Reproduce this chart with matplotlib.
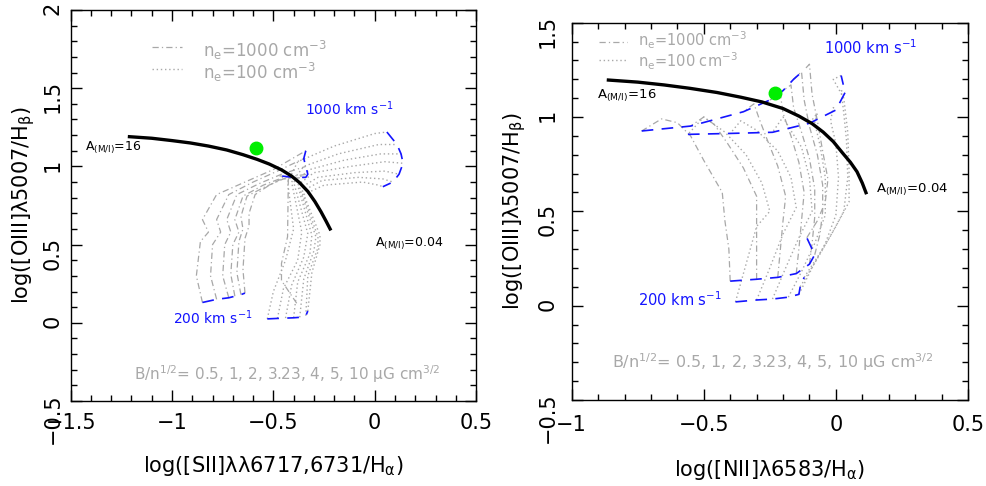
import matplotlib.pyplot as plt
from matplotlib.ticker import MultipleLocator, FuncFormatter

plt.rcParams['font.family'] = 'DejaVu Sans'
plt.rcParams['mathtext.default'] = 'regular'

GRAY = '#a8a8a8'
BLUE = '#1414ff'

# ---------------- left panel: [SII]/Ha vs [OIII]/Hb ----------------
# shock tracks 200 -> 1000 km/s, one per B/n^1/2, n_e = 1000 cm^-3 (dash-dot)
sii_n1000_x = [
    [-0.85, -0.88, -0.86, -0.82, -0.85, -0.78, -0.64, -0.50, -0.34],
    [-0.78, -0.81, -0.80, -0.76, -0.78, -0.72, -0.60, -0.48, -0.35],
    [-0.72, -0.75, -0.74, -0.71, -0.73, -0.68, -0.57, -0.46, -0.34],
    [-0.69, -0.71, -0.70, -0.67, -0.69, -0.65, -0.55, -0.45, -0.33],
    [-0.66, -0.68, -0.67, -0.65, -0.66, -0.63, -0.54, -0.45, -0.34],
    [-0.64, -0.65, -0.64, -0.62, -0.62, -0.59, -0.52, -0.46, -0.40],
    [-0.385, -0.46, -0.46, -0.43, -0.426, -0.47],
]
sii_n1000_y = [
    [0.13, 0.30, 0.52, 0.58, 0.66, 0.82, 0.90, 0.98, 1.10],
    [0.15, 0.30, 0.50, 0.58, 0.66, 0.82, 0.90, 0.97, 1.05],
    [0.16, 0.30, 0.50, 0.58, 0.66, 0.82, 0.89, 0.95, 1.00],
    [0.17, 0.31, 0.50, 0.58, 0.66, 0.81, 0.88, 0.93, 0.95],
    [0.18, 0.32, 0.52, 0.60, 0.68, 0.81, 0.87, 0.92, 0.93],
    [0.19, 0.34, 0.54, 0.62, 0.70, 0.82, 0.88, 0.92, 0.93],
    [0.125, 0.27, 0.38, 0.55, 0.93, 0.94],
]
# n_e = 100 cm^-3 (dotted)
sii_n100_x = [
    [-0.53, -0.50, -0.44, -0.40, -0.43, -0.38, -0.20, 0.00, 0.06],
    [-0.48, -0.45, -0.38, -0.36, -0.41, -0.35, -0.18, 0.02, 0.11],
    [-0.44, -0.41, -0.35, -0.33, -0.40, -0.32, -0.15, 0.03, 0.13],
    [-0.40, -0.38, -0.32, -0.31, -0.38, -0.30, -0.12, 0.05, 0.14],
    [-0.37, -0.35, -0.30, -0.29, -0.37, -0.28, -0.10, 0.05, 0.12],
    [-0.34, -0.33, -0.28, -0.28, -0.36, -0.26, -0.08, 0.04, 0.09],
    [-0.33, -0.31, -0.27, -0.27, -0.35, -0.25, -0.06, 0.02, 0.04],
]
sii_n100_y = [
    [0.025, 0.20, 0.40, 0.60, 0.90, 1.03, 1.13, 1.21, 1.22],
    [0.028, 0.22, 0.40, 0.58, 0.90, 1.00, 1.08, 1.14, 1.14],
    [0.030, 0.24, 0.42, 0.57, 0.90, 0.98, 1.04, 1.08, 1.08],
    [0.032, 0.26, 0.44, 0.56, 0.88, 0.96, 1.00, 1.03, 1.02],
    [0.035, 0.28, 0.46, 0.55, 0.86, 0.93, 0.96, 0.97, 0.95],
    [0.045, 0.30, 0.48, 0.55, 0.84, 0.91, 0.93, 0.92, 0.90],
    [0.075, 0.32, 0.50, 0.56, 0.82, 0.88, 0.90, 0.88, 0.87],
]
# mixing curve A(M/I) = 16 -> 0.04
sii_mix_x = [-1.21, -1.10, -1.00, -0.91, -0.82, -0.73, -0.65, -0.58, -0.52,
             -0.46, -0.41, -0.37, -0.33, -0.295, -0.265, -0.24, -0.22]
sii_mix_y = [1.19, 1.18, 1.165, 1.15, 1.13, 1.105, 1.075, 1.045, 1.015,
             0.978, 0.938, 0.895, 0.84, 0.775, 0.71, 0.65, 0.60]
sii_obs = (-0.586, 1.12)

# ---------------- right panel: [NII]/Ha vs [OIII]/Hb ----------------
nii_n1000_x = [
    [-0.40, -0.405, -0.42, -0.43, -0.50, -0.55, -0.60, -0.66, -0.735],
    [-0.30, -0.30, -0.30, -0.30, -0.35, -0.41, -0.46, -0.50, -0.55],
    [-0.22, -0.21, -0.20, -0.19, -0.22, -0.26, -0.29, -0.31, -0.35],
    [-0.15, -0.14, -0.13, -0.12, -0.14, -0.17, -0.20, -0.21, -0.25],
    [-0.10, -0.09, -0.08, -0.08, -0.10, -0.13, -0.16, -0.17, -0.20],
    [-0.08, -0.06, -0.05, -0.05, -0.07, -0.10, -0.12, -0.13, -0.16],
    [-0.11, -0.07, -0.04, -0.03, -0.05, -0.07, -0.09, -0.10, -0.12],
]
nii_n1000_y = [
    [0.13, 0.30, 0.45, 0.60, 0.77, 0.90, 0.97, 0.99, 0.926],
    [0.14, 0.30, 0.45, 0.58, 0.73, 0.86, 0.96, 1.00, 0.952],
    [0.15, 0.30, 0.45, 0.58, 0.74, 0.88, 0.99, 1.07, 1.028],
    [0.17, 0.30, 0.45, 0.60, 0.76, 0.90, 1.02, 1.12, 1.09],
    [0.22, 0.33, 0.47, 0.62, 0.78, 0.92, 1.05, 1.17, 1.14],
    [0.27, 0.38, 0.50, 0.64, 0.80, 0.95, 1.09, 1.24, 1.20],
    [0.36, 0.45, 0.55, 0.67, 0.82, 0.98, 1.12, 1.28, 1.25],
]
nii_n100_x = [
    [-0.38, -0.34, -0.30, -0.25, -0.28, -0.34, -0.42, -0.50, -0.56],
    [-0.30, -0.25, -0.20, -0.15, -0.17, -0.22, -0.30, -0.36, -0.40],
    [-0.24, -0.19, -0.14, -0.09, -0.10, -0.13, -0.18, -0.20, -0.24],
    [-0.18, -0.13, -0.08, -0.04, -0.04, -0.06, -0.08, -0.07, -0.10],
    [-0.14, -0.09, -0.04, 0.00, 0.01, 0.00, -0.02, -0.01, 0.00],
    [-0.135, -0.07, -0.02, 0.03, 0.045, 0.04, 0.03, 0.02, 0.035],
    [-0.12, -0.05, 0.00, 0.05, 0.05, 0.045, 0.03, -0.01, 0.02],
]
nii_n100_y = [
    [0.020, 0.22, 0.42, 0.50, 0.65, 0.80, 0.92, 1.00, 0.908],
    [0.030, 0.20, 0.38, 0.52, 0.68, 0.82, 0.93, 0.98, 0.913],
    [0.035, 0.20, 0.36, 0.50, 0.68, 0.84, 0.95, 1.00, 0.919],
    [0.045, 0.18, 0.33, 0.48, 0.68, 0.85, 0.97, 1.02, 0.967],
    [0.060, 0.20, 0.33, 0.48, 0.68, 0.86, 0.98, 1.05, 1.037],
    [0.100, 0.25, 0.37, 0.50, 0.68, 0.88, 1.02, 1.14, 1.13],
    [0.150, 0.30, 0.42, 0.55, 0.72, 0.92, 1.10, 1.20, 1.22],
]
nii_mix_x = [-0.861, -0.75, -0.65, -0.552, -0.45, -0.36, -0.28, -0.20, -0.14,
             -0.09, -0.048, -0.01, 0.025, 0.055, 0.08, 0.10, 0.114]
nii_mix_y = [1.196, 1.185, 1.17, 1.152, 1.13, 1.105, 1.08, 1.045, 1.005,
             0.965, 0.92, 0.87, 0.81, 0.76, 0.71, 0.65, 0.599]
nii_obs = (-0.23, 1.129)

b_text = r'B/n$^{1/2}$= 0.5, 1, 2, 3.23, 4, 5, 10 $\mu$G cm$^{3/2}$'
dashdot = (0, (5, 2.5, 1, 2.5))
dotted = (0, (1, 2))


def tick_fmt(v, pos):
    v = round(v, 3)
    if v == 0:
        return '0'
    return f'{v:g}'.replace('-', '\u2212')


def draw_panel(ax, x1000, y1000, x100, y100, mix_x, mix_y, obs, n_start):
    for xs, ys in zip(x1000, y1000):
        ax.plot(xs, ys, color=GRAY, lw=0.9, ls=dashdot, zorder=2)
    for xs, ys in zip(x100, y100):
        ax.plot(xs, ys, color=GRAY, lw=1.0, ls=dotted, zorder=2)
    # velocity end lines (200 and 1000 km/s)
    ax.plot([c[0] for c in x1000[:n_start]], [c[0] for c in y1000[:n_start]],
            color=BLUE, lw=1.2, ls=(0, (7, 5)), zorder=3)
    ax.plot([c[-1] for c in x1000], [c[-1] for c in y1000],
            color=BLUE, lw=1.2, ls=(0, (7, 5)), zorder=3)
    ax.plot([c[0] for c in x100], [c[0] for c in y100],
            color=BLUE, lw=1.2, ls=(0, (7, 5)), zorder=3)
    ax.plot([c[-1] for c in x100], [c[-1] for c in y100],
            color=BLUE, lw=1.2, ls=(0, (7, 5)), zorder=3)
    ax.plot(mix_x, mix_y, color='black', lw=2.4, zorder=4,
            solid_joinstyle='round')
    ax.plot([obs[0]], [obs[1]], 'o', color='#00ee00', ms=9, zorder=5)

    ax.xaxis.set_major_locator(MultipleLocator(0.5))
    ax.xaxis.set_minor_locator(MultipleLocator(0.1))
    ax.yaxis.set_major_locator(MultipleLocator(0.5))
    ax.yaxis.set_minor_locator(MultipleLocator(0.1))
    ax.xaxis.set_major_formatter(FuncFormatter(tick_fmt))
    ax.yaxis.set_major_formatter(FuncFormatter(tick_fmt))
    ax.tick_params(which='both', direction='in', top=True, right=True,
                   width=1.0, labelsize=15)
    ax.tick_params(which='major', length=8)
    ax.tick_params(which='minor', length=4)
    ax.tick_params(axis='y', labelrotation=90)
    for sp in ax.spines.values():
        sp.set_linewidth(1.0)


fig = plt.figure(figsize=(9.86, 4.86), dpi=100)
ax1 = fig.add_axes([0.0717, 0.1749, 0.4111, 0.8045])
ax2 = fig.add_axes([0.5798, 0.1770, 0.4019, 0.7763])

# left
draw_panel(ax1, sii_n1000_x, sii_n1000_y, sii_n100_x, sii_n100_y,
           sii_mix_x, sii_mix_y, sii_obs, 6)
ax1.set_xlim(-1.5, 0.5)
ax1.set_ylim(-0.5, 2)
ax1.tick_params(axis='y', pad=6)
ax1.tick_params(axis='x', pad=9)
ax1.set_xlabel('log([SII]\u03bb\u03bb6717,6731/H$_\\alpha$)', fontsize=15)
ax1.set_ylabel('log([OIII]\u03bb5007/H$_\\beta$)', fontsize=15)
ax1.xaxis.set_label_coords(0.5, -0.135)
ax1.xaxis.label.set_va('top')
ax1.yaxis.set_label_coords(-0.083, 0.5)

ax1.plot([0.20, 0.275], [0.905, 0.905], transform=ax1.transAxes,
         color=GRAY, lw=0.9, ls=dashdot)
ax1.plot([0.20, 0.275], [0.85, 0.85], transform=ax1.transAxes,
         color=GRAY, lw=1.0, ls=dotted)
ax1.text(-0.846, 1.74, r'n$_e$=1000 cm$^{-3}$', color=GRAY, fontsize=12,
         va='center')
ax1.text(-0.846, 1.60, r'n$_e$=100 cm$^{-3}$', color=GRAY, fontsize=12,
         va='center')
ax1.text(-0.343, 1.37, r'1000 km s$^{-1}$', color=BLUE, fontsize=10,
         va='center')
ax1.text(-0.997, 0.03, r'200 km s$^{-1}$', color=BLUE, fontsize=10,
         va='center')
ax1.text(-1.43, 1.12, r'A$_{(M/I)}$=16', fontsize=9, va='center')
ax1.text(0.0, 0.51, r'A$_{(M/I)}$=0.04', fontsize=9, va='center')
ax1.text(-1.19, -0.33, b_text, color=GRAY, fontsize=11, va='center')

# right
draw_panel(ax2, nii_n1000_x, nii_n1000_y, nii_n100_x, nii_n100_y,
           nii_mix_x, nii_mix_y, nii_obs, 7)
ax2.set_xlim(-1, 0.5)
ax2.set_ylim(-0.5, 1.5)
ax2.tick_params(axis='y', pad=10)
ax2.tick_params(axis='x', pad=11)
ax2.set_xlabel('log([NII]\u03bb6583/H$_\\alpha$)', fontsize=15)
ax2.set_ylabel('log([OIII]\u03bb5007/H$_\\beta$)', fontsize=15)
ax2.xaxis.set_label_coords(0.5, -0.154)
ax2.xaxis.label.set_va('top')
ax2.yaxis.set_label_coords(-0.110, 0.5)

ax2.plot([0.07, 0.14], [0.95, 0.95], transform=ax2.transAxes,
         color=GRAY, lw=0.9, ls=dashdot)
ax2.plot([0.07, 0.14], [0.90, 0.90], transform=ax2.transAxes,
         color=GRAY, lw=1.0, ls=dotted)
ax2.text(-0.748, 1.405, r'n$_e$=1000 cm$^{-3}$', color=GRAY, fontsize=10.5,
         va='center')
ax2.text(-0.748, 1.295, r'n$_e$=100 cm$^{-3}$', color=GRAY, fontsize=10.5,
         va='center')
ax2.text(-0.044, 1.37, r'1000 km s$^{-1}$', color=BLUE, fontsize=10.5,
         va='center')
ax2.text(-0.748, 0.03, r'200 km s$^{-1}$', color=BLUE, fontsize=10.5,
         va='center')
ax2.text(-0.903, 1.117, r'A$_{(M/I)}$=16', fontsize=9.5, va='center')
ax2.text(0.152, 0.617, r'A$_{(M/I)}$=0.04', fontsize=9.5, va='center')
ax2.text(-0.849, -0.297, b_text, color=GRAY, fontsize=11.5, va='center')

fig.savefig('out.png', dpi=100)
